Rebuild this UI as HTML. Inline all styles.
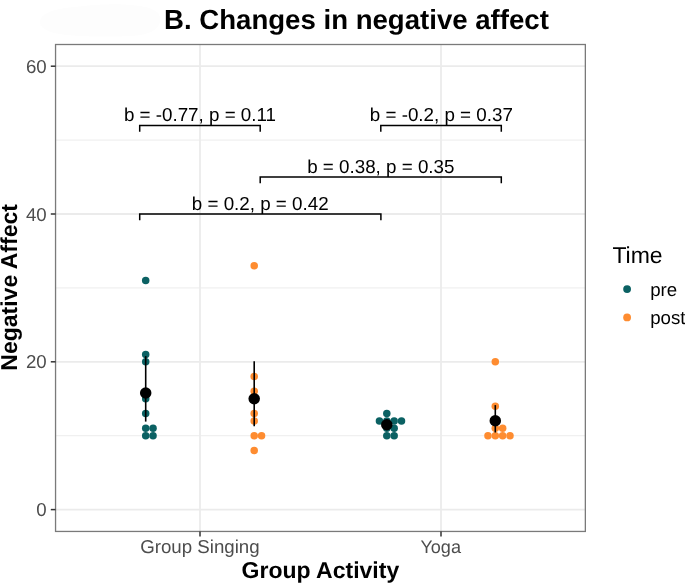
<!DOCTYPE html>
<html><head><meta charset="utf-8"><style>
html,body{margin:0;padding:0;background:#fff;width:685px;height:584px;overflow:hidden}
svg{display:block;will-change:transform}
text{font-family:"Liberation Sans",sans-serif;text-rendering:geometricPrecision}
</style></head><body>
<svg width="685" height="584" viewBox="0 0 685 584">
<rect width="685" height="584" fill="#fff"/>
<path d="M40 22 C40 12 60 8 75 7 C95 4 120 3 140 6 C155 8 162 14 160 22 C158 30 150 35 130 36 C110 37 80 37 60 34 C48 32 40 28 40 22 Z" fill="#fdfdfd"/>
<line x1="55.55" x2="585.35" y1="435.70" y2="435.70" stroke="#f0f0f0" stroke-width="1.2"/>
<line x1="55.55" x2="585.35" y1="287.90" y2="287.90" stroke="#f0f0f0" stroke-width="1.2"/>
<line x1="55.55" x2="585.35" y1="140.10" y2="140.10" stroke="#f0f0f0" stroke-width="1.2"/>
<line x1="55.55" x2="585.35" y1="509.60" y2="509.60" stroke="#ebebeb" stroke-width="1.8"/>
<line x1="55.55" x2="585.35" y1="361.80" y2="361.80" stroke="#ebebeb" stroke-width="1.8"/>
<line x1="55.55" x2="585.35" y1="214.00" y2="214.00" stroke="#ebebeb" stroke-width="1.8"/>
<line x1="55.55" x2="585.35" y1="66.20" y2="66.20" stroke="#ebebeb" stroke-width="1.8"/>
<line x1="200.0" x2="200.0" y1="44.5" y2="531.45" stroke="#ebebeb" stroke-width="1.8"/>
<line x1="441.0" x2="441.0" y1="44.5" y2="531.45" stroke="#ebebeb" stroke-width="1.8"/>
<circle cx="145.70" cy="280.51" r="3.75" fill="#0b6163"/>
<circle cx="145.70" cy="354.41" r="3.75" fill="#0b6163"/>
<circle cx="145.70" cy="361.80" r="3.75" fill="#0b6163"/>
<circle cx="145.70" cy="398.75" r="3.75" fill="#0b6163"/>
<circle cx="145.70" cy="413.53" r="3.75" fill="#0b6163"/>
<circle cx="145.70" cy="428.31" r="3.75" fill="#0b6163"/>
<circle cx="153.05" cy="428.31" r="3.75" fill="#0b6163"/>
<circle cx="145.70" cy="435.70" r="3.75" fill="#0b6163"/>
<circle cx="153.05" cy="435.70" r="3.75" fill="#0b6163"/>
<circle cx="254.20" cy="265.73" r="3.75" fill="#fe8c30"/>
<circle cx="254.20" cy="376.58" r="3.75" fill="#fe8c30"/>
<circle cx="254.20" cy="391.36" r="3.75" fill="#fe8c30"/>
<circle cx="254.20" cy="398.75" r="3.75" fill="#fe8c30"/>
<circle cx="254.20" cy="413.53" r="3.75" fill="#fe8c30"/>
<circle cx="254.20" cy="420.92" r="3.75" fill="#fe8c30"/>
<circle cx="254.20" cy="435.70" r="3.75" fill="#fe8c30"/>
<circle cx="261.55" cy="435.70" r="3.75" fill="#fe8c30"/>
<circle cx="254.20" cy="450.48" r="3.75" fill="#fe8c30"/>
<circle cx="386.80" cy="413.53" r="3.75" fill="#0b6163"/>
<circle cx="379.45" cy="420.92" r="3.75" fill="#0b6163"/>
<circle cx="386.80" cy="420.92" r="3.75" fill="#0b6163"/>
<circle cx="394.15" cy="420.92" r="3.75" fill="#0b6163"/>
<circle cx="401.50" cy="420.92" r="3.75" fill="#0b6163"/>
<circle cx="386.80" cy="428.31" r="3.75" fill="#0b6163"/>
<circle cx="394.15" cy="428.31" r="3.75" fill="#0b6163"/>
<circle cx="386.80" cy="435.70" r="3.75" fill="#0b6163"/>
<circle cx="394.15" cy="435.70" r="3.75" fill="#0b6163"/>
<circle cx="495.30" cy="361.80" r="3.75" fill="#fe8c30"/>
<circle cx="495.30" cy="406.14" r="3.75" fill="#fe8c30"/>
<circle cx="495.30" cy="428.31" r="3.75" fill="#fe8c30"/>
<circle cx="502.65" cy="428.31" r="3.75" fill="#fe8c30"/>
<circle cx="487.95" cy="435.70" r="3.75" fill="#fe8c30"/>
<circle cx="495.30" cy="435.70" r="3.75" fill="#fe8c30"/>
<circle cx="502.65" cy="435.70" r="3.75" fill="#fe8c30"/>
<circle cx="510.00" cy="435.70" r="3.75" fill="#fe8c30"/>
<line x1="145.7" x2="145.7" y1="356.1" y2="421.6" stroke="#000" stroke-width="1.6"/>
<line x1="254.2" x2="254.2" y1="361.2" y2="426.3" stroke="#000" stroke-width="1.6"/>
<line x1="495.3" x2="495.3" y1="405.1" y2="432.5" stroke="#000" stroke-width="1.6"/>
<circle cx="145.7" cy="393.0" r="5.75" fill="#000"/>
<circle cx="254.2" cy="398.8" r="5.75" fill="#000"/>
<circle cx="386.8" cy="424.8" r="5.75" fill="#000"/>
<circle cx="495.3" cy="420.8" r="5.75" fill="#000"/>
<path d="M139.7 131.65 V125.45 H260.2 V131.65" fill="none" stroke="#000" stroke-width="1.5"/><text x="123.90" y="120.95" font-size="18.8" fill="#000">b = -0.77, p = 0.11</text>
<path d="M380.8 131.65 V125.45 H501.3 V131.65" fill="none" stroke="#000" stroke-width="1.5"/><text x="369.80" y="120.95" font-size="18.8" fill="#000">b = -0.2, p = 0.37</text>
<path d="M260.2 183.29999999999998 V177.1 H501.3 V183.29999999999998" fill="none" stroke="#000" stroke-width="1.5"/><text x="307.20" y="172.60" font-size="18.8" fill="#000">b = 0.38, p = 0.35</text>
<path d="M139.7 220.2 V214.0 H380.9 V220.2" fill="none" stroke="#000" stroke-width="1.5"/><text x="191.80" y="209.50" font-size="18.8" fill="#000">b = 0.2, p = 0.42</text>
<rect x="55.55" y="44.5" width="529.80" height="486.95" fill="none" stroke="#7a7a7a" stroke-width="1.3"/>
<line x1="50.8" x2="55.55" y1="509.60" y2="509.60" stroke="#333" stroke-width="1.5"/>
<text x="46.75" y="516.20" font-size="18.7" text-anchor="end" fill="#4d4d4d">0</text>
<line x1="50.8" x2="55.55" y1="361.80" y2="361.80" stroke="#333" stroke-width="1.5"/>
<text x="46.75" y="368.40" font-size="18.7" text-anchor="end" fill="#4d4d4d">20</text>
<line x1="50.8" x2="55.55" y1="214.00" y2="214.00" stroke="#333" stroke-width="1.5"/>
<text x="46.75" y="220.60" font-size="18.7" text-anchor="end" fill="#4d4d4d">40</text>
<line x1="50.8" x2="55.55" y1="66.20" y2="66.20" stroke="#333" stroke-width="1.5"/>
<text x="46.75" y="72.80" font-size="18.7" text-anchor="end" fill="#4d4d4d">60</text>
<line x1="200.0" x2="200.0" y1="531.45" y2="536.4" stroke="#333" stroke-width="1.5"/>
<text x="199.9" y="553.0" font-size="18.7" text-anchor="middle" fill="#4d4d4d">Group Singing</text>
<line x1="441.0" x2="441.0" y1="531.45" y2="536.4" stroke="#333" stroke-width="1.5"/>
<text x="440.7" y="553.0" font-size="18.1" text-anchor="middle" fill="#4d4d4d">Yoga</text>
<text x="320.4" y="578" font-size="23" font-weight="bold" text-anchor="middle" fill="#000">Group Activity</text>
<text transform="translate(17.1 287.4) rotate(-90)" font-size="23" font-weight="bold" text-anchor="middle" fill="#000">Negative Affect</text>
<text x="164" y="28.5" font-size="27.6" font-weight="bold" fill="#000">B. Changes in negative affect</text>
<text x="612.4" y="263.4" font-size="23" fill="#000">Time</text>
<circle cx="627.1" cy="289.1" r="3.9" fill="#0b6163"/>
<circle cx="627.1" cy="317.4" r="3.9" fill="#fe8c30"/>
<text x="650.2" y="296.0" font-size="18.7" fill="#000">pre</text>
<text x="650.2" y="324.2" font-size="18.7" fill="#000">post</text>
</svg>
</body></html>
